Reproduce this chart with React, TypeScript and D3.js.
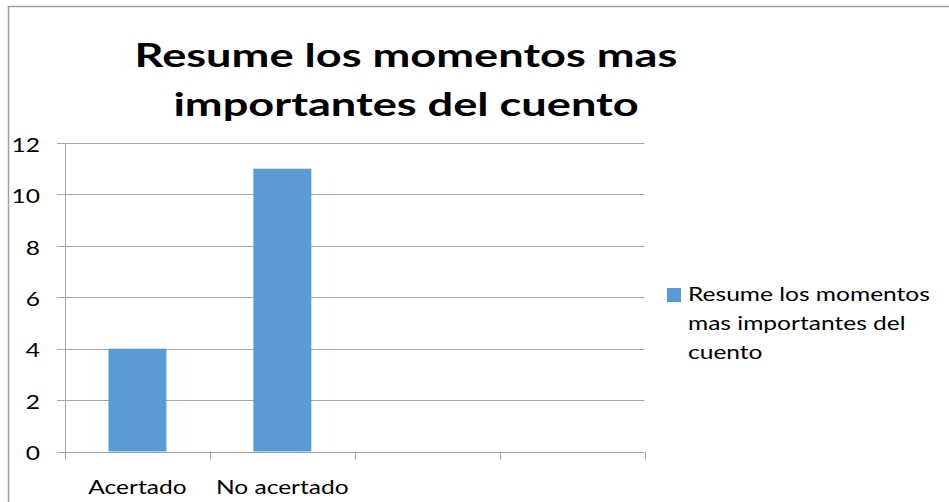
import React from "react";
import * as d3 from "d3";

const categories = ["Acertado", "No acertado", "", ""];
const values = [4, 11, null, null];
const yTicks = [0, 2, 4, 6, 8, 10, 12];
const titleLines = ["Resume los momentos mas", "importantes del cuento"];
const legendLines = ["Resume los momentos", "mas importantes del", "cuento"];

const W = 949;
const H = 502;
const FONT = "Lato, 'Open Sans', sans-serif";
const SX = 1.32;
const SXT = 1.39;

export default function App() {
  const x = d3.scaleBand<number>().domain(d3.range(categories.length)).range([65, 644.5]).paddingInner(0).paddingOuter(0);
  const y = d3.scaleLinear().domain([0, 12]).range([451.5, 143]);
  const bw = x.bandwidth() * 0.4;
  const grid = "#a6a6a6";
  const blue = "#5b9bd5";

  return (
    <svg width={W} height={H} style={{ position: "absolute", left: 0, top: 0, background: "#fff" }} fontFamily={FONT}>
      <rect x={8.5} y={6.5} width={980} height={540} fill="#fff" stroke="#a0a0a0" strokeWidth={1.5} />
      {titleLines.map((t, i) => (
        <text key={i} transform={`translate(406,${67 + i * 49}) scale(${SXT},1)`} textAnchor="middle" fontSize={32.5} fontWeight={700} fill="#000">
          {t}
        </text>
      ))}
      {yTicks.map((v) => (
        <g key={v}>
          <line x1={57} x2={644.5} y1={Math.round(y(v)) + 0.5} y2={Math.round(y(v)) + 0.5} stroke={grid} strokeWidth={1} />
          <text transform={`translate(40,${y(v) + 8.7}) scale(${SX},1)`} textAnchor="end" fontSize={18.6} fill="#000">
            {v}
          </text>
        </g>
      ))}
      <line x1={65.5} x2={65.5} y1={y(12)} y2={y(0)} stroke={grid} strokeWidth={1} />
      {d3.range(categories.length + 1).map((i) => {
        const xx = i < categories.length ? (x(i) as number) : 644.5;
        return <line key={i} x1={Math.round(xx) + 0.5} x2={Math.round(xx) + 0.5} y1={y(0)} y2={y(0) + 8} stroke={grid} strokeWidth={1} />;
      })}
      {values.map((v, i) =>
        v == null ? null : (
          <rect key={i} x={(x(i) as number) + (x.bandwidth() - bw) / 2} y={y(v)} width={bw} height={y(0) - y(v)} fill={blue} />
        )
      )}
      {categories.map((c, i) => (
        <text key={i} transform={`translate(${(x(i) as number) + x.bandwidth() / 2},494) scale(${SX},1)`} textAnchor="middle" fontSize={18.6} fill="#000">
          {c}
        </text>
      ))}
      <rect x={667} y={288} width={14} height={14} fill={blue} />
      {legendLines.map((t, i) => (
        <text key={i} transform={`translate(688,${301 + i * 29}) scale(${SX},1)`} fontSize={18.6} fill="#000">
          {t}
        </text>
      ))}
    </svg>
  );
}
